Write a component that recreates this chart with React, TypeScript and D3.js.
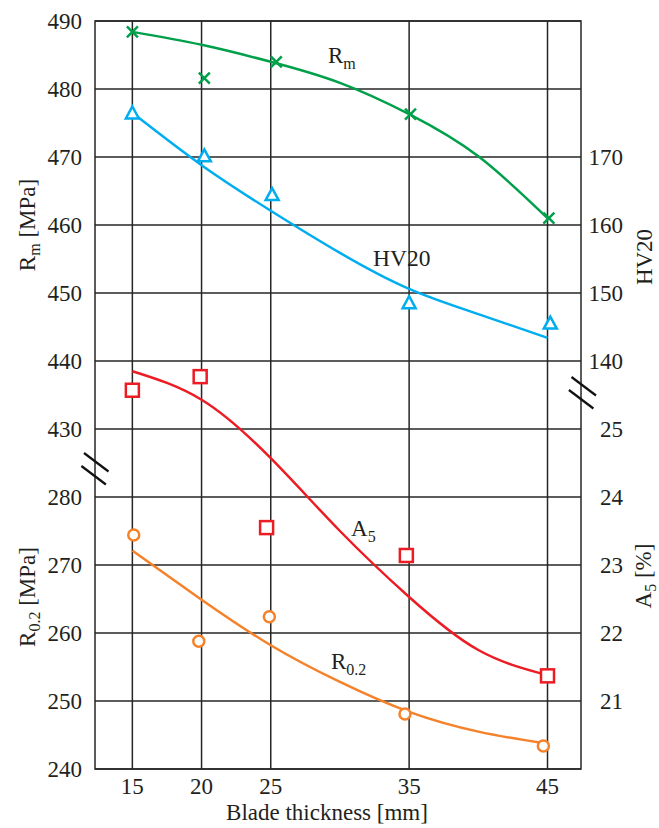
import React from "react";
import * as d3 from "d3";

// Blade thickness categories (mm)
const thickness = [15, 20, 25, 35, 45];
// Measured x positions of the markers (slightly staggered around the nominal thickness)
const markerX_Rm = [15, 20.2, 25.4, 35.1, 45.1];
const markerX_HV = [15, 20.2, 25.1, 35.0, 45.2];
const markerX_A5 = [15, 19.9, 24.7, 34.8, 45.0];
const markerX_R02 = [15.1, 19.8, 24.9, 34.7, 44.7];

// Measured values
const rmValues = [488.4, 481.6, 484.0, 476.3, 461.0];
const hvValues = [176.4, 170.1, 164.4, 148.5, 145.5];
const a5Values = [25.57, 25.77, 23.55, 23.14, 21.37];
const r02Values = [274.4, 258.8, 262.4, 248.1, 243.4];

// Trend-curve support points (thickness, value)
const trendX = [15, 20, 25, 30, 35, 40, 45];
const rmTrend = [488.4, 486.5, 484.0, 480.9, 476.3, 470.1, 461.0];
const hvTrend = [176.5, 168.8, 162.1, 155.9, 150.6, 146.9, 143.4];
const a5Trend = [25.85, 25.43, 24.57, 23.5, 22.53, 21.75, 21.38];
const r02Trend = [272.1, 264.9, 258.2, 252.8, 248.4, 245.5, 243.7];

// Tick labels
const rmTicks = [430, 440, 450, 460, 470, 480, 490];
const r02Ticks = [240, 250, 260, 270, 280];
const hvTicks = [140, 150, 160, 170];
const a5Ticks = [21, 22, 23, 24, 25];

const W = 659;
const H = 828;
const L = 95, R = 581, T = 21, B = 769;
const FONT = "'Liberation Serif', 'Times New Roman', serif";
const FS = 23;
const SUB = 16;
const INK = "#231f20";

const x = d3.scaleLinear().domain([12.3, 47.42]).range([L, R]);
const yRm = d3.scaleLinear().domain([430, 490]).range([429, T]);
const yR02 = d3.scaleLinear().domain([240, 280]).range([B, 497]);
const yHV = d3.scaleLinear().domain([130, 190]).range([429, T]);
const yA5 = d3.scaleLinear().domain([21, 25]).range([701, 429]);

const GREEN = "#00a04b";
const CYAN = "#00aeef";
const RED = "#ec1c24";
const ORANGE = "#f5822a";
const GRID = "#262626";

function trendPath(values: number[], y: d3.ScaleLinear<number, number>) {
  const line = d3
    .line<number>()
    .x((_, i) => x(trendX[i]))
    .y((d) => y(d))
    .curve(d3.curveNatural);
  return line(values) || "";
}

export default function App() {
  const gridY = [
    ...rmTicks.map((v) => yRm(v)),
    ...r02Ticks.map((v) => yR02(v)),
  ];
  return (
    <svg
      width={W}
      height={H}
      style={{ position: "absolute", left: 0, top: 0, background: "#fff" }}
      fontFamily={FONT}
    >
      {/* grid */}
      {gridY.map((gy, i) => (
        <line key={"gy" + i} x1={L} x2={R} y1={gy} y2={gy} stroke={GRID} strokeWidth={1.5} />
      ))}
      {thickness.map((t) => (
        <line key={"gx" + t} x1={x(t)} x2={x(t)} y1={T} y2={B} stroke={GRID} strokeWidth={1.5} />
      ))}
      <rect x={L} y={T} width={R - L} height={B - T} fill="none" stroke={GRID} strokeWidth={1.5} />

      {/* axis breaks */}
      {[0, 13].map((o) => (
        <line key={"bl" + o} x1={84 - o * 0.2} y1={453 + o} x2={108.5 - o * 0.2} y2={471.5 + o} stroke="#111" strokeWidth={2.2} />
      ))}
      {[0, 13].map((o) => (
        <line key={"br" + o} x1={571.5 - o * 0.2} y1={377 + o} x2={596 - o * 0.2} y2={395.5 + o} stroke="#111" strokeWidth={2.2} />
      ))}

      {/* left tick labels */}
      {rmTicks.map((v) => (
        <text key={"rm" + v} x={82} y={yRm(v)} dy="0.35em" textAnchor="end" fontSize={FS} fill={INK}>
          {v}
        </text>
      ))}
      {r02Ticks.map((v) => (
        <text key={"r02" + v} x={82} y={yR02(v)} dy="0.35em" textAnchor="end" fontSize={FS} fill={INK}>
          {v}
        </text>
      ))}
      {/* right tick labels */}
      {hvTicks.map((v) => (
        <text key={"hv" + v} x={623} y={yHV(v)} dy="0.35em" textAnchor="end" fontSize={FS} fill={INK}>
          {v}
        </text>
      ))}
      {a5Ticks.map((v) => (
        <text key={"a5" + v} x={623} y={yA5(v)} dy="0.35em" textAnchor="end" fontSize={FS} fill={INK}>
          {v}
        </text>
      ))}
      {/* bottom tick labels */}
      {thickness.map((t) => (
        <text key={"xt" + t} x={x(t)} y={794} textAnchor="middle" fontSize={FS} fill={INK}>
          {t}
        </text>
      ))}
      <text x={327} y={820} textAnchor="middle" fontSize={23} fill={INK}>
        Blade thickness [mm]
      </text>

      {/* axis titles */}
      <text transform="translate(35,225) rotate(-90)" textAnchor="middle" fontSize={FS} fill={INK}>
        R<tspan fontSize={SUB} dy={5}>m</tspan>
        <tspan dy={-5}> [MPa]</tspan>
      </text>
      <text transform="translate(35,597) rotate(-90)" textAnchor="middle" fontSize={FS} fill={INK}>
        R<tspan fontSize={SUB} dy={5}>0.2</tspan>
        <tspan dy={-5}> [MPa]</tspan>
      </text>
      <text transform="translate(652,257) rotate(-90)" textAnchor="middle" fontSize={FS} fill={INK}>
        HV20
      </text>
      <text transform="translate(651,576) rotate(-90)" textAnchor="middle" fontSize={FS} fill={INK}>
        A<tspan fontSize={SUB} dy={5}>5</tspan>
        <tspan dy={-5}> [%]</tspan>
      </text>

      {/* trend curves */}
      <path d={trendPath(rmTrend, yRm)} fill="none" stroke={GREEN} strokeWidth={2.5} />
      <path d={trendPath(hvTrend, yHV)} fill="none" stroke={CYAN} strokeWidth={2.5} />
      <path d={trendPath(a5Trend, yA5)} fill="none" stroke={RED} strokeWidth={2.5} />
      <path d={trendPath(r02Trend, yR02)} fill="none" stroke={ORANGE} strokeWidth={2.5} />

      {/* Rm markers: crosses */}
      {rmValues.map((v, i) => {
        const cx = x(markerX_Rm[i]);
        const cy = yRm(v);
        const s = 5.5;
        return (
          <g key={"mrm" + i} stroke={GREEN} strokeWidth={2.5}>
            <line x1={cx - s} y1={cy - s} x2={cx + s} y2={cy + s} />
            <line x1={cx - s} y1={cy + s} x2={cx + s} y2={cy - s} />
          </g>
        );
      })}
      {/* HV markers: triangles */}
      {hvValues.map((v, i) => {
        const cx = x(markerX_HV[i]);
        const cy = yHV(v);
        const pts = [
          [cx, cy - 7],
          [cx + 6.5, cy + 5],
          [cx - 6.5, cy + 5],
        ]
          .map((p) => p.join(","))
          .join(" ");
        return <polygon key={"mhv" + i} points={pts} fill="#fff" stroke={CYAN} strokeWidth={2.5} />;
      })}
      {/* A5 markers: squares */}
      {a5Values.map((v, i) => {
        const cx = x(markerX_A5[i]);
        const cy = yA5(v);
        return (
          <rect key={"ma5" + i} x={cx - 6.5} y={cy - 6.5} width={13} height={13} fill="#fff" stroke={RED} strokeWidth={2.5} />
        );
      })}
      {/* R0.2 markers: circles */}
      {r02Values.map((v, i) => (
        <circle key={"mr02" + i} cx={x(markerX_R02[i])} cy={yR02(v)} r={5.5} fill="#fff" stroke={ORANGE} strokeWidth={2.5} />
      ))}

      {/* series labels */}
      <text x={328} y={63} fontSize={FS} fill={INK}>
        R<tspan fontSize={SUB} dy={6}>m</tspan>
      </text>
      <text x={373} y={266} fontSize={23.5} fill={INK}>
        HV20
      </text>
      <text x={351} y={536} fontSize={FS} fill={INK}>
        A<tspan fontSize={SUB} dy={6}>5</tspan>
      </text>
      <text x={331} y={669} fontSize={FS} fill={INK}>
        R<tspan fontSize={SUB} dy={6}>0.2</tspan>
      </text>
    </svg>
  );
}
